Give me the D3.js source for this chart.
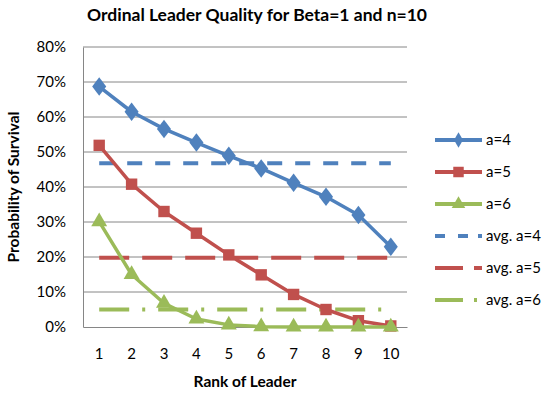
<!DOCTYPE html>
<html>
<head>
<meta charset="utf-8">
<script src="https://cdn.jsdelivr.net/npm/d3@7"></script>
<style>
  body { margin: 0; background: #fff; }
  text { font-family: Lato, "Open Sans", sans-serif; fill: #000; }
</style>
</head>
<body>
<svg id="chart" width="550" height="398"></svg>
<script>
// ranks on the x axis
var ranks = [1, 2, 3, 4, 5, 6, 7, 8, 9, 10];
// survival probabilities
var a4 = [0.687, 0.615, 0.566, 0.527, 0.489, 0.453, 0.412, 0.372, 0.320, 0.229];
var a5 = [0.519, 0.408, 0.330, 0.268, 0.206, 0.149, 0.093, 0.050, 0.018, 0.003];
var a6 = [0.301, 0.150, 0.068, 0.023, 0.006, 0.001, 0, 0, 0, 0];
var avg4 = 0.468, avg5 = 0.198, avg6 = 0.050;
var yTicks = [0, 0.1, 0.2, 0.3, 0.4, 0.5, 0.6, 0.7, 0.8];

var svg = d3.select("#chart");
var margin = { left: 83, top: 47, right: 143, bottom: 71 };
var width = 550 - margin.left - margin.right,
    height = 398 - margin.top - margin.bottom;

var x = d3.scaleBand().domain(ranks).range([0, width]);
var y = d3.scaleLinear().domain([0, 0.8]).range([height, 0]);

var g = svg.append("g").attr("transform", "translate(" + margin.left + "," + margin.top + ")");

// gridlines
g.selectAll("line.grid")
    .data(yTicks.slice(1))
    .enter().append("line")
    .attr("class", "grid")
    .attr("x1", 0).attr("x2", width)
    .attr("y1", function(d) { return y(d); })
    .attr("y2", function(d) { return y(d); })
    .attr("stroke", "#868686").attr("stroke-width", 1);

// axes
var yAxis = g.append("g")
    .call(d3.axisLeft(y).tickValues(yTicks).tickFormat(d3.format(".0%")).tickSize(0).tickPadding(17));
yAxis.select(".domain").attr("stroke", "#868686");
yAxis.selectAll("text").style("font-size", "15px");

var xAxis = g.append("g")
    .attr("transform", "translate(0," + height + ")")
    .call(d3.axisBottom(x).tickSize(0).tickPadding(21));
xAxis.select(".domain").attr("stroke", "#868686");
xAxis.selectAll("text").style("font-size", "15px");

var cx = function(d, i) { return x(ranks[i]) + x.bandwidth() / 2; };

// average lines
var avgs = [
    { v: avg4, color: "#4F81BD", dash: "15,13" },
    { v: avg5, color: "#C0504D", dash: "30,13" },
    { v: avg6, color: "#9BBB59", dash: "30,13,3,13" }
];
avgs.forEach(function(a) {
    g.append("line")
        .attr("x1", x(ranks[0]) + x.bandwidth() / 2)
        .attr("x2", x(ranks[ranks.length - 1]) + x.bandwidth() / 2)
        .attr("y1", y(a.v)).attr("y2", y(a.v))
        .attr("stroke", a.color).attr("stroke-width", 4)
        .attr("stroke-dasharray", a.dash);
});

var line = d3.line().x(cx).y(function(d) { return y(d); });

var series = [
    { data: a4, color: "#4F81BD", symbol: d3.symbolDiamond, size: 110 },
    { data: a5, color: "#C0504D", symbol: d3.symbolSquare, size: 130 },
    { data: a6, color: "#9BBB59", symbol: d3.symbolTriangle, size: 110 }
];

series.forEach(function(s) {
    g.append("path")
        .datum(s.data)
        .attr("d", line)
        .attr("fill", "none")
        .attr("stroke", s.color)
        .attr("stroke-width", 3.5)
        .attr("stroke-linejoin", "round");
    g.selectAll(null)
        .data(s.data)
        .enter().append("path")
        .attr("d", d3.symbol().type(s.symbol).size(s.size))
        .attr("transform", function(d, i) {
            return "translate(" + cx(d, i) + "," + y(d) + ")" + (s.symbol === d3.symbolDiamond ? " scale(1.25,0.95)" : "");
        })
        .attr("fill", s.color);
});

// legend
var legendItems = [
    { label: "a=4", color: "#4F81BD", symbol: d3.symbolDiamond, size: 70 },
    { label: "a=5", color: "#C0504D", symbol: d3.symbolSquare, size: 110 },
    { label: "a=6", color: "#9BBB59", symbol: d3.symbolTriangle, size: 80 },
    { label: "avg. a=4", color: "#4F81BD", dash: "10,13,10" },
    { label: "avg. a=5", color: "#C0504D", dash: "28,11,8" },
    { label: "avg. a=6", color: "#9BBB59", dash: "28,11,3" }
];
var legend = svg.append("g").attr("transform", "translate(435,140)");
legendItems.forEach(function(d, i) {
    var row = legend.append("g").attr("transform", "translate(0," + (i * 32) + ")");
    row.append("line")
        .attr("x1", 0).attr("x2", 47).attr("y1", 0).attr("y2", 0)
        .attr("stroke", d.color).attr("stroke-width", 4)
        .attr("stroke-dasharray", d.dash || null);
    if (d.symbol) {
        row.append("path")
            .attr("d", d3.symbol().type(d.symbol).size(d.size))
            .attr("transform", "translate(23.5,0)")
            .attr("fill", d.color);
    }
    row.append("text")
        .attr("x", 51).attr("y", 0).attr("dy", "0.35em")
        .style("font-size", "15px")
        .text(d.label);
});

// titles
svg.append("text")
    .attr("x", 257).attr("y", 21)
    .attr("text-anchor", "middle")
    .style("font-size", "17.5px").style("font-weight", "bold")
    .text("Ordinal Leader Quality for Beta=1 and n=10");

svg.append("text")
    .attr("x", 245).attr("y", 387)
    .attr("text-anchor", "middle")
    .style("font-size", "15.5px").style("font-weight", "bold")
    .text("Rank of Leader");

svg.append("text")
    .attr("transform", "translate(19,187) rotate(-90)")
    .attr("text-anchor", "middle")
    .style("font-size", "15.5px").style("font-weight", "bold")
    .text("Probability of Survival");
</script>
</body>
</html>
